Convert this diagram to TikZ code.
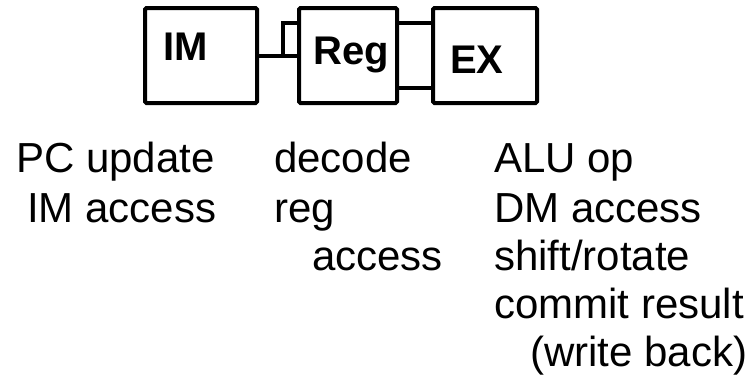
\documentclass[tikz,border=0pt]{standalone}
\usepackage{fontspec}
\setmainfont{Liberation Sans}
\begin{document}
\begin{tikzpicture}[x=1pt,y=-1pt,
  stagebox/.style={draw,line width=4pt,rounded corners=1.5pt,inner sep=0pt,minimum height=95pt},
  conn/.style={line width=4pt},
  blabel/.style={font=\fontsize{40}{48}\selectfont\bfseries,anchor=base west,inner sep=0pt},
  tlabel/.style={font=\fontsize{42}{50}\selectfont,anchor=base west,inner sep=0pt}]
\useasboundingbox (0,0) rectangle (751,383);
% stage boxes
\node[stagebox,minimum width=112pt] (IM) at (201,55.5) {};
\node[stagebox,minimum width=98pt] (Reg) at (348,55.5) {};
\node[stagebox,minimum width=104pt] (EX) at (485,55.5) {};
% box labels
\node[blabel] (imt) at (163,60) {IM};
\node[blabel] (regt) at (313,64) {Reg};
\node[blabel] (ext) at (450,73) {EX};
% connectors
\coordinate (j) at (283,55.5);
\draw[conn] (IM.east) -- (Reg.west);
\draw[conn] (j) |- ([yshift=32.5pt]Reg.west);
\draw[conn] ([yshift=32.5pt]Reg.east) -- ([yshift=32.5pt]EX.west);
\draw[conn] ([yshift=-32.5pt]Reg.east) -- ([yshift=-32.5pt]EX.west);
% column texts
\node[tlabel] (a1) at (16,172) {PC update};
\node[tlabel] (a2) at (27,222) {IM access};
\node[tlabel] (b1) at (274,172) {decode};
\node[tlabel] (b2) at (274,222) {reg};
\node[tlabel] (b3) at (312,270) {access};
\node[tlabel] (c1) at (494,172) {ALU op};
\node[tlabel] (c2) at (494,222) {DM access};
\node[tlabel] (c3) at (494,270) {shift/rotate};
\node[tlabel] (c4) at (494,318) {commit result};
\node[tlabel] (c5) at (530,366) {(write back)};
\end{tikzpicture}
\end{document}
